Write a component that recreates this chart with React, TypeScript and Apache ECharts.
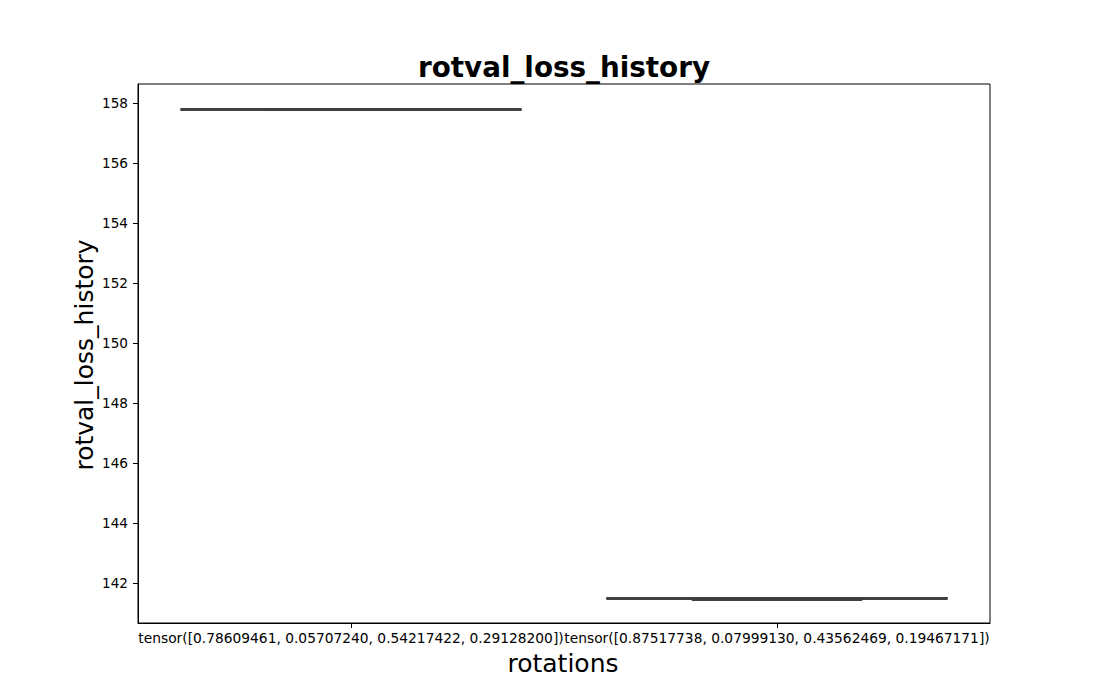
import React, { useEffect, useRef } from "react";
import * as echarts from "echarts";

const categories = [
  "tensor([0.78609461, 0.05707240, 0.54217422, 0.29128200])",
  "tensor([0.87517738, 0.07999130, 0.43562469, 0.19467171])",
];
const mins = [157.79, 141.46];
const q1s = [157.79, 141.5];
const medians = [157.79, 141.5];
const q3s = [157.79, 141.5];
const maxs = [157.79, 141.5];
const yTicks = [142, 144, 146, 148, 150, 152, 154, 156, 158];
const yMin = 140.68;
const yMax = 158.64;

const titleText = "rotval_loss_history";
const xName = "rotations";
const yName = "rotval_loss_history";

const FONT = "DejaVu Sans";
const LINE = "#3f3f3f";

export default function App() {
  const ref = useRef<HTMLDivElement>(null);
  useEffect(() => {
    if (!ref.current) return;
    const chart = echarts.init(ref.current, null, { renderer: "svg" });
    const data = categories.map((_, i) => [i, mins[i], q1s[i], medians[i], q3s[i], maxs[i]]);
    chart.setOption({
      animation: false,
      backgroundColor: "#ffffff",
      textStyle: { fontFamily: FONT },
      grid: {
        left: 138,
        top: 84,
        width: 852,
        height: 539,
        show: true,
        borderColor: "#000",
        borderWidth: 1,
        backgroundColor: "transparent",
      },
      xAxis: {
        type: "category",
        data: categories,
        boundaryGap: true,
        axisLine: { show: true, lineStyle: { color: "#000", width: 1 } },
        axisTick: { show: true, alignWithLabel: true, length: 5, lineStyle: { color: "#000" } },
        axisLabel: { interval: 0, color: "#000", fontSize: 13.8, fontFamily: FONT, margin: 8, hideOverlap: false },
        splitLine: { show: false },
      },
      yAxis: {
        type: "value",
        min: yMin,
        max: yMax,
        axisLine: { show: true, lineStyle: { color: "#000", width: 1 } },
        axisTick: { show: true, length: 5, customValues: yTicks, lineStyle: { color: "#000" } },
        axisLabel: { color: "#000", fontSize: 13.6, fontFamily: FONT, margin: 10, customValues: yTicks },
        splitLine: { show: false },
      },
      series: [
        {
          type: "custom",
          data,
          encode: { x: 0, y: [1, 2, 3, 4, 5] },
          renderItem: (params: any, api: any) => {
            const idx = api.value(0);
            const vmin = api.value(1);
            const vq1 = api.value(2);
            const vmed = api.value(3);
            const vq3 = api.value(4);
            const vmax = api.value(5);
            const band = api.size([1, 0])[0];
            const cx = api.coord([idx, vmed])[0];
            const bw = band * 0.8;
            const cw = bw * 0.5;
            const y = (v: number) => api.coord([idx, v])[1];
            const style = { stroke: LINE, lineWidth: 2.6, fill: null };
            const ln = (x1: number, y1: number, x2: number, y2: number) => ({
              type: "line",
              shape: { x1, y1, x2, y2 },
              style,
            });
            return {
              type: "group",
              children: [
                ln(cx, y(vq1), cx, y(vmin)),
                ln(cx, y(vq3), cx, y(vmax)),
                ln(cx - cw / 2, y(vmin), cx + cw / 2, y(vmin)),
                ln(cx - cw / 2, y(vmax), cx + cw / 2, y(vmax)),
                ln(cx - bw / 2, y(vq1), cx + bw / 2, y(vq1)),
                ln(cx - bw / 2, y(vq3), cx + bw / 2, y(vq3)),
                ln(cx - bw / 2, y(vq1), cx - bw / 2, y(vq3)),
                ln(cx + bw / 2, y(vq1), cx + bw / 2, y(vq3)),
                ln(cx - bw / 2, y(vmed), cx + bw / 2, y(vmed)),
              ],
            };
          },
        },
      ],
      graphic: [
        {
          type: "text",
          x: 564,
          y: 67,
          style: {
            text: titleText,
            font: `bold 27.8px "${FONT}"`,
            fill: "#000",
            textAlign: "center",
            textVerticalAlign: "middle",
          },
        },
        {
          type: "text",
          x: 563,
          y: 663,
          style: {
            text: xName,
            font: `25px "${FONT}"`,
            fill: "#000",
            textAlign: "center",
            textVerticalAlign: "middle",
          },
        },
        {
          type: "text",
          x: 84,
          y: 355,
          rotation: Math.PI / 2,
          style: {
            text: yName,
            font: `25px "${FONT}"`,
            fill: "#000",
            textAlign: "center",
            textVerticalAlign: "middle",
          },
        },
      ],
    });
    return () => chart.dispose();
  }, []);
  return (
    <div
      ref={ref}
      style={{ position: "fixed", left: 0, top: 0, width: 1100, height: 700, background: "#fff" }}
    />
  );
}
